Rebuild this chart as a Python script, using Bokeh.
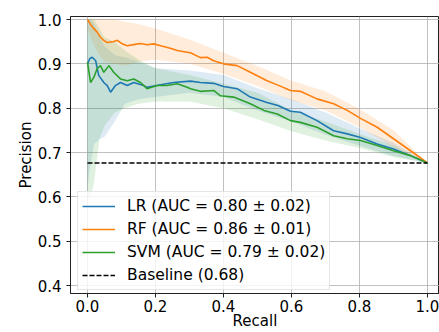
from bokeh.plotting import figure
from bokeh.models import FixedTicker, PrintfTickFormatter, Range1d
from bokeh.embed import file_html
from bokeh.resources import INLINE

# ---- data ----
lr_recall = [0.0, 0.007, 0.014, 0.024, 0.033, 0.048, 0.058, 0.068, 0.082, 0.097, 0.117, 0.136,
             0.165, 0.175, 0.215, 0.253, 0.303, 0.332, 0.371, 0.40, 0.44, 0.479, 0.528, 0.56,
             0.597, 0.626, 0.675, 0.724, 0.764, 0.803, 0.852, 0.90, 0.95, 1.0]
lr_precision = [0.90, 0.912, 0.915, 0.907, 0.874, 0.858, 0.851, 0.836, 0.851, 0.858, 0.851, 0.858,
                0.851, 0.847, 0.853, 0.858, 0.861, 0.858, 0.856, 0.849, 0.844, 0.825, 0.813, 0.806,
                0.793, 0.791, 0.772, 0.749, 0.742, 0.734, 0.719, 0.708, 0.693, 0.6765]

rf_recall = [0.0, 0.008, 0.018, 0.028, 0.038, 0.048, 0.058, 0.075, 0.088, 0.10, 0.117, 0.14,
             0.156, 0.175, 0.195, 0.215, 0.235, 0.253, 0.264, 0.28, 0.303, 0.332, 0.352, 0.371,
             0.40, 0.44, 0.479, 0.528, 0.56, 0.597, 0.626, 0.675, 0.724, 0.764, 0.803, 0.852,
             0.90, 0.95, 1.0]
rf_precision = [1.0, 0.99, 0.98, 0.972, 0.96, 0.953, 0.948, 0.950, 0.953, 0.946, 0.941, 0.944,
                0.946, 0.943, 0.945, 0.941, 0.937, 0.933, 0.930, 0.928, 0.925, 0.914, 0.915, 0.907,
                0.90, 0.896, 0.881, 0.862, 0.852, 0.840, 0.838, 0.821, 0.81, 0.795, 0.777, 0.757,
                0.731, 0.704, 0.6765]

svm_recall = [0.0, 0.009, 0.019, 0.028, 0.038, 0.048, 0.063, 0.077, 0.097, 0.117, 0.136, 0.156,
              0.175, 0.205, 0.234, 0.264, 0.293, 0.303, 0.332, 0.371, 0.391, 0.43, 0.479, 0.519,
              0.558, 0.597, 0.626, 0.675, 0.724, 0.764, 0.803, 0.852, 0.90, 0.95, 1.0]
svm_precision = [0.904, 0.858, 0.870, 0.889, 0.896, 0.881, 0.896, 0.881, 0.866, 0.862, 0.866, 0.858,
                 0.844, 0.851, 0.851, 0.855, 0.847, 0.844, 0.838, 0.840, 0.828, 0.825, 0.810, 0.795,
                 0.787, 0.772, 0.768, 0.757, 0.738, 0.731, 0.727, 0.716, 0.704, 0.693, 0.6765]

band_recall = [0.0, 0.01, 0.02, 0.035, 0.05, 0.08, 0.11, 0.15, 0.2, 0.3, 0.4, 0.5, 0.6, 0.7,
               0.8, 0.9, 1.0]
lr_upper = [1.0, 1.0, 0.99, 0.96, 0.94, 0.92, 0.915, 0.905, 0.89, 0.885, 0.875, 0.845, 0.82,
            0.79, 0.755, 0.722, 0.6765]
lr_lower = [0.62, 0.68, 0.72, 0.73, 0.735, 0.77, 0.81, 0.82, 0.825, 0.835, 0.825, 0.795, 0.77,
            0.74, 0.715, 0.692, 0.6765]
rf_upper = [1.0, 1.0, 1.0, 1.0, 1.0, 1.0, 0.995, 0.99, 0.98, 0.955, 0.925, 0.895, 0.862, 0.838,
            0.798, 0.75, 0.6765]
rf_lower = [0.98, 0.96, 0.94, 0.92, 0.905, 0.90, 0.895, 0.905, 0.91, 0.90, 0.877, 0.85, 0.818,
            0.795, 0.757, 0.712, 0.6765]
svm_upper = [1.0, 1.0, 1.0, 0.98, 0.96, 0.95, 0.93, 0.91, 0.89, 0.875, 0.855, 0.835, 0.795,
             0.77, 0.742, 0.716, 0.6765]
svm_lower = [0.59, 0.60, 0.637, 0.73, 0.76, 0.79, 0.80, 0.81, 0.815, 0.815, 0.80, 0.775, 0.748,
             0.727, 0.71, 0.69, 0.6765]

baseline_value = 0.6765
baseline_x = [0.0, 1.0]

labels = ["LR (AUC = 0.80 ± 0.02)", "RF (AUC = 0.86 ± 0.01)",
          "SVM (AUC = 0.79 ± 0.02)", "Baseline (0.68)"]
colors = ["#1f77b4", "#ff7f0e", "#2ca02c"]

x_ticks = [0.0, 0.2, 0.4, 0.6, 0.8, 1.0]
y_ticks = [0.4, 0.5, 0.6, 0.7, 0.8, 0.9, 1.0]
x_title = "Recall"
y_title = "Precision"

FONT = "DejaVu Sans"

p = figure(width=439, height=332, output_backend="svg", toolbar_location=None,
           x_range=Range1d(-0.05, 1.0353), y_range=Range1d(0.382, 1.0068),
           min_border_left=70, min_border_right=0, min_border_top=16, min_border_bottom=39,
           x_axis_label=x_title, y_axis_label=y_title)

# bands
for up, lo, c in [(lr_upper, lr_lower, colors[0]), (rf_upper, rf_lower, colors[1]),
                  (svm_upper, svm_lower, colors[2])]:
    p.varea(x=band_recall, y1=lo, y2=up, fill_color=c, fill_alpha=0.15)

# lines
p.line(lr_recall, lr_precision, line_color=colors[0], line_width=1.6, legend_label=labels[0])
p.line(rf_recall, rf_precision, line_color=colors[1], line_width=1.6, legend_label=labels[1])
p.line(svm_recall, svm_precision, line_color=colors[2], line_width=1.6, legend_label=labels[2])
p.line(baseline_x, [baseline_value] * len(baseline_x), line_color="black", line_width=1.5,
       line_dash="5 2", legend_label=labels[3])

# axes
for ax, ticks in [(p.xaxis, x_ticks), (p.yaxis, y_ticks)]:
    ax.ticker = FixedTicker(ticks=ticks)
    ax.formatter = PrintfTickFormatter(format="%.1f")
    ax.major_label_text_font = FONT
    ax.major_label_text_font_size = "15px"
    ax.major_label_text_color = "black"
    ax.axis_label_text_font = FONT
    ax.axis_label_text_font_size = "15px"
    ax.axis_label_text_font_style = "normal"
    ax.axis_label_text_color = "black"
    ax.axis_line_color = "#222222"
    ax.major_tick_line_color = "#222222"
    ax.major_tick_out = 4
    ax.major_tick_in = 0
    ax.minor_tick_line_color = None

p.xaxis.major_label_standoff = 2
p.xaxis.axis_label_standoff = -3
p.yaxis.major_label_standoff = 5
p.yaxis.axis_label_standoff = 0

p.outline_line_color = "#222222"
p.outline_line_width = 1
p.xgrid.grid_line_color = "#b0b0b0"
p.ygrid.grid_line_color = "#b0b0b0"
p.xgrid.grid_line_alpha = 0.8
p.ygrid.grid_line_alpha = 0.8
p.xgrid.ticker = FixedTicker(ticks=x_ticks)
p.ygrid.ticker = FixedTicker(ticks=y_ticks)

lg = p.legend[0]
lg.location = (7, 3)
lg.margin = 0
lg.padding = 4
lg.spacing = 3
lg.label_height = 20
lg.glyph_height = 20
lg.glyph_width = 33
lg.label_standoff = 12
lg.label_text_font = FONT
lg.label_text_font_size = "15.5px"
lg.label_text_color = "black"
lg.background_fill_color = "white"
lg.background_fill_alpha = 0.8
lg.border_line_color = "#cccccc"
lg.border_line_width = 1

open("out.html", "w").write(file_html(p, INLINE))
